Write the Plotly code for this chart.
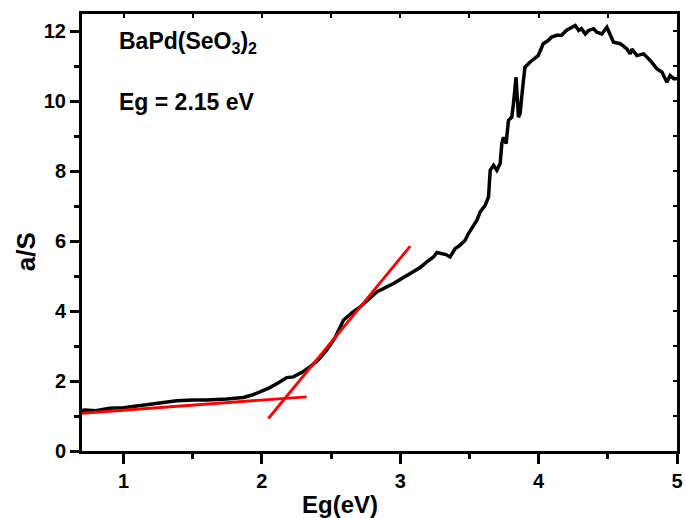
import plotly.graph_objects as go

# Measured curve (Kubelka-Munk a/S vs photon energy)
energy = [0.70, 0.72, 0.80, 0.90, 1.00, 1.14, 1.25, 1.385, 1.505, 1.60, 1.746, 1.818, 1.866, 1.93, 1.987,
          2.05, 2.12, 2.18, 2.228, 2.29, 2.349, 2.41, 2.469, 2.53, 2.589, 2.65, 2.71, 2.77, 2.83, 2.951,
          3.072, 3.144, 3.192, 3.24, 3.265, 3.289, 3.33, 3.36, 3.397, 3.433, 3.469, 3.493, 3.529, 3.554,
          3.578, 3.614, 3.638, 3.65, 3.674, 3.698, 3.722, 3.734, 3.746, 3.765, 3.782, 3.806, 3.818,
          3.837, 3.854, 3.866, 3.885, 3.901, 3.937, 3.997, 4.033, 4.069, 4.094, 4.13, 4.166, 4.2,
          4.25, 4.265, 4.289, 4.31, 4.337, 4.361, 4.397, 4.42, 4.457, 4.493, 4.541, 4.59, 4.638,
          4.662, 4.674, 4.71, 4.758, 4.807, 4.855, 4.891, 4.927, 4.95, 4.976, 5.0]
a_over_s = [1.16, 1.17, 1.15, 1.22, 1.24, 1.31, 1.36, 1.44, 1.46, 1.46, 1.49, 1.50, 1.53, 1.60, 1.69,
            1.80, 1.95, 2.10, 2.12, 2.25, 2.41, 2.62, 2.89, 3.25, 3.74, 3.95, 4.12, 4.33, 4.55, 4.79,
            5.08, 5.25, 5.41, 5.55, 5.68, 5.65, 5.62, 5.55, 5.79, 5.89, 6.03, 6.22, 6.46, 6.60,
            6.84, 7.03, 7.27, 8.03, 8.17, 8.03, 8.22, 8.79, 8.98, 8.79, 9.46, 9.55, 9.93,
            10.69, 9.55, 9.65, 10.41, 10.98, 11.12, 11.31, 11.65, 11.74, 11.84, 11.89, 11.89, 12.03,
            12.14, 12.17, 12.03, 12.08, 11.93, 12.03, 12.08, 11.98, 11.93, 12.12, 11.69, 11.65, 11.50,
            11.36, 11.50, 11.31, 11.36, 11.17, 10.93, 10.84, 10.55, 10.74, 10.65, 10.65]

# Tangent (baseline) line and absorption-edge line
base_x = [0.70, 2.324]
base_y = [1.08, 1.55]
edge_x = [2.047, 3.072]
edge_y = [0.93, 5.86]

x_range = [0.7, 5.0]
y_range = [0, 12.5]

bold = dict(family="Liberation Sans, Arial, sans-serif", color="black", weight="bold")

fig = go.Figure()
fig.add_trace(go.Scatter(x=energy, y=a_over_s, mode="lines",
                         line=dict(color="black", width=3.5), showlegend=False))
fig.add_trace(go.Scatter(x=base_x, y=base_y, mode="lines",
                         line=dict(color="#ff0000", width=2.8), showlegend=False))
fig.add_trace(go.Scatter(x=edge_x, y=edge_y, mode="lines",
                         line=dict(color="#ff0000", width=2.8), showlegend=False))
# helper trace for the mirrored (inside-tick) axes
fig.add_trace(go.Scatter(x=x_range, y=y_range, xaxis="x2", yaxis="y2", mode="markers",
                         marker=dict(opacity=0), hoverinfo="skip", showlegend=False))

fig.update_layout(
    width=685, height=518,
    margin=dict(l=82, r=8, t=14, b=67),
    paper_bgcolor="white", plot_bgcolor="white",
    font=dict(**bold, size=20),
    xaxis=dict(range=x_range, tick0=0, dtick=1, ticks="outside", ticklen=10, tickwidth=2.5,
               tickcolor="black", showline=True, linewidth=3, linecolor="black", mirror=True,
               showgrid=False, zeroline=False, automargin=False,
               minor=dict(dtick=0.5, ticks="outside", ticklen=5, tickwidth=2.5, tickcolor="black"),
               tickfont=dict(**bold, size=20)),
    yaxis=dict(range=y_range, tick0=0, dtick=2, ticks="outside", ticklen=9, tickwidth=2.5,
               tickcolor="black", showline=True, linewidth=3, linecolor="black", mirror=True,
               showgrid=False, zeroline=False, automargin=False,
               minor=dict(dtick=1, ticks="outside", ticklen=5, tickwidth=2.5, tickcolor="black"),
               tickfont=dict(**bold, size=20)),
    xaxis2=dict(range=x_range, overlaying="x", side="top", tick0=0, dtick=0.5, ticks="inside",
                ticklen=4, tickwidth=2, tickcolor="black", showticklabels=False, automargin=False,
                showline=False, showgrid=False, zeroline=False),
    yaxis2=dict(range=y_range, overlaying="y", side="right", tick0=0, dtick=1, ticks="inside",
                ticklen=4, tickwidth=2, tickcolor="black", showticklabels=False, automargin=False,
                showline=False, showgrid=False, zeroline=False),
    annotations=[
        dict(text="Eg(eV)", xref="paper", yref="paper", x=(340 - 82) / 595, y=-(504 - 451) / 437,
             xanchor="center", yanchor="middle", showarrow=False,
             font=dict(**bold, size=24)),
        dict(text="a/S", xref="paper", yref="paper", x=-0.094, y=0.455,
             xanchor="center", yanchor="middle", textangle=-90, showarrow=False,
             font=dict(**bold, size=26)),
        dict(text="BaPd(SeO<sub>3</sub>)<sub>2</sub>", xref="paper", yref="paper",
             x=0.058, y=0.935, xanchor="left", yanchor="middle", showarrow=False,
             font=dict(**bold, size=23)),
        dict(text="Eg = 2.15 eV", xref="paper", yref="paper",
             x=0.058, y=0.798, xanchor="left", yanchor="middle", showarrow=False,
             font=dict(**bold, size=23)),
    ],
)

fig.write_html("out.html")
